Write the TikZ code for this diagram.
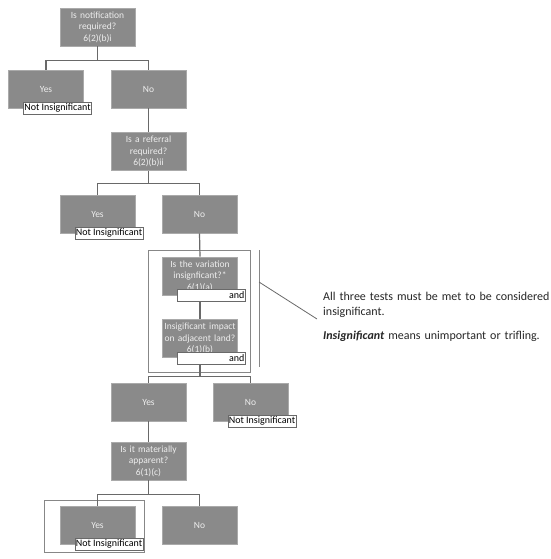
\documentclass[tikz,border=0pt]{standalone}
\usepackage{fontspec}
\setmainfont{Carlito}
\usepackage{tikz}
\usetikzlibrary{positioning}

\definecolor{boxgray}{RGB}{138,138,138}
\definecolor{boxedge}{RGB}{170,170,170}
\definecolor{boxtext}{RGB}{238,238,238}
\definecolor{linegray}{RGB}{105,105,105}

\begin{document}
\begin{tikzpicture}[x=1pt, y=-1pt,
        box/.style={rectangle, draw=boxedge, fill=boxgray, line width=0.6pt, minimum width=75pt, minimum height=38pt, inner sep=0pt, text width=73pt, align=center, text=boxtext, font=\fontsize{9.5}{11.5}\selectfont},
        tag/.style={rectangle, draw=linegray, fill=white, line width=0.6pt, minimum width=68pt, minimum height=12pt, inner sep=1pt, font=\fontsize{10}{11}\selectfont},
        andtag/.style={tag, text width=66pt, align=right},
        link/.style={draw=linegray, line width=1.2pt},
        frame/.style={rectangle, draw=linegray!80, line width=1pt},
        note/.style={text width=228pt, align=left, inner sep=0pt, text=black!85, font=\fontsize{12}{14.5}\selectfont}
      ]
        \useasboundingbox (0,0) rectangle (550,559);

        \node[frame, minimum width=102pt, minimum height=122pt]  (tests)  at(199, 311)  {};
        \node[frame, minimum width=100pt, minimum height=52pt]   (keep)   at(94, 526)   {};

        \node[box]  (q1)   at(97.5, 27)    {Is notification required?\\6(2)(b)i};
        \node[box]  (yes1) at(46, 89)      {Yes};
        \node[box]  (no1)  at(148.5, 89)   {No};
        \node[box]  (q2)   at(148.5, 151.5) {Is a referral required?\\6(2)(b)ii};
        \node[box]  (yes2) at(97.5, 214)   {Yes};
        \node[box]  (no2)  at(199.5, 214)  {No};
        \node[box]  (qa)   at(200, 276)    {Is the variation insignficant?*\\6(1)(a)};
        \node[box]  (qb)   at(200, 338.5)  {Insigificant impact on adjacent land?\\6(1)(b)};
        \node[box]  (yes3) at(148.5, 402)  {Yes};
        \node[box]  (no3)  at(250.5, 402)  {No};
        \node[box]  (q4)   at(148.5, 461)  {Is it materially apparent?\\6(1)(c)};
        \node[box]  (yes4) at(97.5, 525)   {Yes};
        \node[box]  (no4)  at(199.5, 525)  {No};

        \node[tag]     (ni1)  at([xshift=11.5pt]yes1.south)  {Not Insignificant};
        \node[tag]     (ni2)  at([xshift=11.5pt]yes2.south)  {Not Insignificant};
        \node[andtag]  (anda) at([xshift=11.5pt]qa.south)    {and};
        \node[andtag]  (andb) at([xshift=11.5pt]qb.south)    {and};
        \node[tag]     (ni3)  at([xshift=11.5pt]no3.south)   {Not Insignificant};
        \node[tag]     (ni4)  at([xshift=11.5pt]yes4.south)  {Not Insignificant};

        \draw[link]  (q1.south) -- ++(0,14) -| (yes1.north);
        \draw[link]  (q1.south) -- ++(0,14) -| (no1.north);
        \draw[link]  (no1.south) -- (q2.north);
        \draw[link]  (q2.south) -- ++(0,13) -| (yes2.north);
        \draw[link]  (q2.south) -- ++(0,13) -| (no2.north);
        \draw[link]  (no2.south) -- (qa.north);
        \draw[link]  (qa.south |- anda.south) -- (qb.north);
        \draw[link]  (qb.south |- andb.south) -- ++(0,12) -| (yes3.north);
        \draw[link]  (qb.south |- andb.south) -- ++(0,12) -| (no3.north);
        \draw[link]  (yes3.south) -- (q4.north);
        \draw[link]  (q4.south) -- ++(0,14) -| (yes4.north);
        \draw[link]  (q4.south) -- ++(0,14) -| (no4.north);

        \coordinate (bartop)  at(259, 250);
        \coordinate (barend)  at(259, 367);
        \coordinate (barknee) at(259, 282);
        \coordinate (pointer) at(317, 319);
        \draw[frame]  (bartop) -- (barend);
        \draw[linegray, line width=0.8pt]  (barknee) -- (pointer);

        \node[note, anchor=north west]  (note)  at(323, 292)
            {All three tests must be met to be considered insignificant.\\[10pt]\textbf{\textit{Insignificant}} means unimportant or trifling.};
      \end{tikzpicture}
\end{document}
